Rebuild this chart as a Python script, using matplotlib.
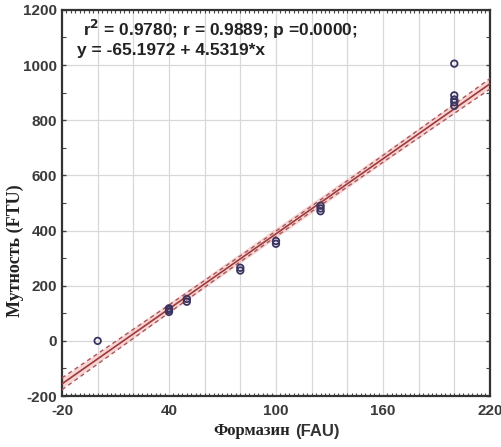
import numpy as np
import matplotlib.pyplot as plt
from matplotlib.ticker import MultipleLocator

plt.rcParams['axes.unicode_minus'] = False

# data
formazin = [0, 40, 40, 40, 50, 50, 80, 80, 100, 100, 125, 125, 125, 200, 200, 200, 200, 200]
turbidity = [0, 105, 112, 118, 142, 152, 255, 265, 352, 362, 470, 480, 490, 1005, 890, 875, 865, 852]
intercept = -65.1972
slope = 4.5319
band_scale = 0.8  # band width as seen in the picture

x = np.array(formazin, float)
y = np.array(turbidity, float)

fig = plt.figure(figsize=(5.02, 4.47), dpi=100)
ax = fig.add_axes([0.1235, 0.114, 0.8525, 0.864])

# fit line and confidence band
xs = np.linspace(-20, 220, 200)
ys = intercept + slope * xs
n = len(x)
resid = y - (intercept + slope * x)
s = np.sqrt(np.sum(resid ** 2) / (n - 2))
se = s * np.sqrt(1 / n + (xs - x.mean()) ** 2 / np.sum((x - x.mean()) ** 2))
ci = band_scale * se

ax.plot(xs, ys, color='#f4b8b8', lw=6, alpha=0.6, zorder=2)
ax.plot(xs, ys, color='#9c3b3b', lw=1.2, zorder=3)
ax.plot(xs, ys + ci, color='#a85858', lw=1.0, ls=(0, (3, 2.5)), zorder=3)
ax.plot(xs, ys - ci, color='#a85858', lw=1.0, ls=(0, (3, 2.5)), zorder=3)

ax.scatter(x, y, s=22, facecolors='none', edgecolors='#3a3560', linewidths=1.3, zorder=4)

ax.set_xlim(-20, 220)
ax.set_ylim(-200, 1200)
ax.set_xticks([-20, 40, 100, 160, 220])
ax.xaxis.set_minor_locator(MultipleLocator(2.5))
ax.set_yticks(range(-200, 1201, 200))
ax.yaxis.set_minor_locator(MultipleLocator(100))

for gx in range(0, 220, 20):
    ax.axvline(gx, color='#d8d8d8', lw=0.9, zorder=1)
for gy in range(0, 1200, 200):
    ax.axhline(gy, color='#d8d8d8', lw=0.9, zorder=1)

ax.tick_params(which='both', direction='in', top=True, right=True, color='#444444')
ax.tick_params(which='major', length=3, width=1)
ax.tick_params(which='minor', length=2, width=0.8)
ax.tick_params(axis='x', which='major', length=0, pad=6)
ax.tick_params(axis='y', which='minor', length=3)
for lab in ax.get_xticklabels() + ax.get_yticklabels():
    lab.set_fontfamily('Liberation Sans')
    lab.set_fontweight('bold')
    lab.set_fontsize(11)
    lab.set_color('#3a3a3a')

for sp in ax.spines.values():
    sp.set_color('#333333')
    sp.set_linewidth(1.6)

ax.text(0.05, 0.978, r'r$^\mathbf{2}$ = 0.9780; r = 0.9889; p =0.0000;', transform=ax.transAxes,
        fontsize=12.5, fontweight='bold', family='Liberation Sans', color='#222222', va='top')
ax.text(0.036, 0.915, 'y = -65.1972 + 4.5319*x', transform=ax.transAxes,
        fontsize=12.5, fontweight='bold', family='Liberation Sans', color='#222222', va='top')

# axis titles: serif Cyrillic word, sans units
fig.text(0.578, 0.018, 'Формазин', family='Liberation Serif', fontweight='bold', fontsize=12,
         color='#222222', ha='right', va='bottom')
fig.text(0.588, 0.018, '(FAU)', family='Liberation Sans', fontweight='bold', fontsize=12,
         color='#333333', ha='left', va='bottom')
fig.text(0.03, 0.44, 'Мутность (FTU)', family='Liberation Serif', fontweight='bold', fontsize=13,
         color='#222222', rotation=90, ha='center', va='center')

fig.savefig('out.png', dpi=100)
